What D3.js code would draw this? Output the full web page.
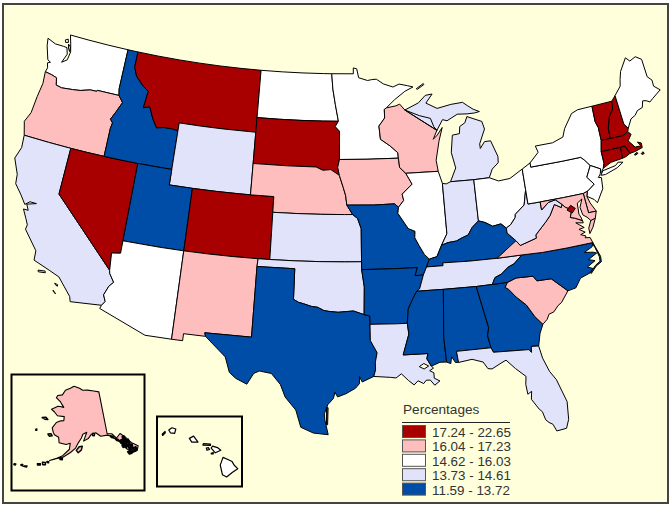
<!DOCTYPE html>
<html lang="en">
<head>
<meta charset="UTF-8">
<title>Percentages by state</title>
<style>
  html, body { margin: 0; padding: 0; background: #fff; }
  svg { display: block; }
  text { font-family: "Liberation Sans", Arial, sans-serif; fill: #333; }
</style>
</head>
<body>
<svg id="map" width="672" height="508"></svg>
<script src="https://d3js.org/d3.v7.min.js"></script>
<script>
// legend
const legendTitle = "Percentages";
const classLabels = ["17.24 - 22.65", "16.04 - 17.23", "14.62 - 16.03", "13.73 - 14.61", "11.59 - 13.72"];
const classColors = ["#a80000", "#ffbebe", "#ffffff", "#e1e3fb", "#004da8"];

// shared borders in lon/lat, each one drawn once so neighbours line up
const n49a = [[-122.76,49],[-121,49],[-119,49],[-117.03,49]];
const n49b = [[-117.03,49],[-116.05,49]];
const n49c = [[-116.05,49],[-114,49],[-112,49],[-110,49],[-108,49],[-106,49],[-104.05,49]];
const n49d = [[-104.05,49],[-102,49],[-100,49],[-98,49],[-97.23,49]];
const mnNorth = [[-97.23,49],[-95.15,49],[-95.15,49.38],[-94.82,49.32],[-94.64,48.74],[-93.8,48.55],[-93.4,48.6],[-92.95,48.62],[-92.3,48.3],[-91.4,48.07],[-90.8,48.24],[-90,48.1],[-89.5,48]];
const mnShore = [[-89.5,48],[-90.3,47.75],[-91.3,47.25],[-92.1,46.75]];
const waCoast = [[-122.76,49],[-122.5,48.45],[-122.3,47.95],[-122.4,47.4],[-122.85,47.15],[-122.55,47.75],[-122.75,48.15],[-123.1,48.17],[-123.9,48.17],[-124.73,48.38],[-124.6,47.9],[-124.15,47.05],[-123.85,46.95],[-124.1,46.85],[-123.95,46.55],[-124.05,46.27]];
const waOr = [[-124.05,46.27],[-123.4,46.2],[-122.9,46.1],[-122.75,45.65],[-122.2,45.57],[-121.2,45.65],[-120.5,45.72],[-119.6,45.92],[-119,45.93],[-118.98,46],[-116.92,46]];
const waId = [[-117.03,49],[-117.04,46.42],[-116.92,46]];
const orId = [[-116.92,46],[-116.46,45.6],[-116.85,44.95],[-117.2,44.4],[-116.95,44.2],[-117.03,43.83],[-117.03,42]];
const orCoast = [[-124.05,46.27],[-123.95,45.5],[-124.1,44.6],[-124.2,43.5],[-124.55,42.85],[-124.2,42]];
const s42a = [[-124.2,42],[-122,42],[-120,42]];
const s42b = [[-120,42],[-118.5,42],[-117.03,42]];
const s42c = [[-117.03,42],[-115.5,42],[-114.04,42]];
const s42d = [[-114.04,42],[-112.5,42],[-111.05,42]];
const caCoast = [[-124.2,42],[-124.1,41.2],[-124.4,40.44],[-123.8,39.5],[-123.7,38.9],[-123,38.3],[-122.5,37.8],[-122.15,38.05],[-121.6,38.05],[-122.35,37.85],[-122.1,37.5],[-122.5,37.5],[-122.1,36.96],[-121.85,36.6],[-121.9,36.3],[-120.65,35.15],[-120.6,34.55],[-119.2,34.15],[-118.4,33.9],[-117.25,32.85],[-117.12,32.53]];
const caNv = [[-120,42],[-120,39],[-114.63,35]];
const caAz = [[-114.63,35],[-114.57,34.8],[-114.14,34.3],[-114.45,34],[-114.72,33.4],[-114.5,33],[-114.72,32.72]];
const caMex = [[-117.12,32.53],[-114.72,32.72]];
const nvAz = [[-114.04,37],[-114.04,36.2],[-114.75,36.1],[-114.63,35]];
const nvUt = [[-114.04,42],[-114.04,37]];
const utAz = [[-114.04,37],[-111,37],[-109.05,37]];
const azNm = [[-109.05,37],[-109.05,31.33]];
const azMex = [[-114.72,32.72],[-114.81,32.5],[-111.07,31.33],[-109.05,31.33]];
const nmMex = [[-109.05,31.33],[-108.21,31.33],[-108.21,31.78],[-106.53,31.78]];
const nmTx = [[-103.04,36.5],[-103.06,32],[-106.62,32],[-106.53,31.78]];
const nmOk = [[-103,37],[-103.04,36.5]];
const okTx = [[-103.04,36.5],[-100,36.5],[-100,34.56],[-99.6,34.38],[-99.2,34.3],[-98.6,34.15],[-98.1,34.1],[-97.6,33.9],[-97.2,33.85],[-96.5,33.8],[-95.8,33.85],[-95.3,33.88],[-94.48,33.64]];
const txAr = [[-94.48,33.64],[-94.04,33.55],[-94.04,33.02]];
const txLa = [[-94.04,33.02],[-94.04,31.99],[-93.55,31.2],[-93.7,30.6],[-93.7,30.1],[-93.84,29.69]];
const txCoast = [[-93.84,29.69],[-94.7,29.35],[-94.9,29.7],[-94.9,29.25],[-95.2,28.95],[-95.9,28.6],[-96.5,28.4],[-96.7,28.7],[-96.8,28.3],[-97.2,27.9],[-97.45,27.3],[-97.4,26.9],[-97.15,25.96]];
const rioGrande = [[-97.15,25.96],[-98.2,26.05],[-99.1,26.4],[-99.5,27.5],[-100.3,28.3],[-100.7,29.1],[-101.4,29.77],[-102.3,29.88],[-102.7,29.7],[-103.15,28.98],[-104,29.3],[-104.5,29.65],[-104.9,30.6],[-106,31.4],[-106.53,31.78]];
const idMt = [[-116.05,49],[-116.05,48],[-115.7,47.45],[-114.9,46.9],[-114.35,46.65],[-114.5,45.55],[-113.95,45.7],[-113.45,44.95],[-113,44.45],[-112.3,44.55],[-111.5,44.55],[-111.05,44.48]];
const idWy = [[-111.05,44.48],[-111.05,42]];
const wyUt = [[-111.05,42],[-111.05,41],[-109.05,41]];
const utCo = [[-109.05,41],[-109.05,37]];
const s41b = [[-109.05,41],[-107,41],[-105,41],[-104.05,41]];
const mtWy = [[-111.05,44.48],[-111.05,45],[-109,45],[-107,45],[-104.05,45]];
const mtNd = [[-104.05,49],[-104.05,45.94]];
const mtSd = [[-104.05,45.94],[-104.05,45]];
const wySd = [[-104.05,45],[-104.05,43]];
const wyNe = [[-104.05,43],[-104.05,41]];
const ndSd = [[-104.05,45.94],[-102,45.94],[-100,45.94],[-98,45.94],[-96.56,45.94]];
const ndMn = [[-97.23,49],[-97.1,48],[-96.85,47],[-96.56,45.94]];
const sdMn = [[-96.56,45.94],[-96.85,45.6],[-96.45,45.3],[-96.45,43.5]];
const sdIa = [[-96.45,43.5],[-96.6,43],[-96.45,42.49]];
const sdNe = [[-104.05,43],[-101,43],[-98.5,43],[-97.9,42.8],[-97.2,42.85],[-96.45,42.49]];
const neIa = [[-96.45,42.49],[-96.1,41.7],[-95.9,41.2],[-95.8,40.6]];
const neMo = [[-95.8,40.6],[-95.31,40]];
const neKs = [[-102.05,40],[-100,40],[-98,40],[-96,40],[-95.31,40]];
const neCo = [[-104.05,41],[-102.05,41],[-102.05,40]];
const coKs = [[-102.05,40],[-102.05,37]];
const s37nm = [[-109.05,37],[-107,37],[-105,37],[-103,37]];
const s37ok = [[-103,37],[-102.05,37]];
const s37ks = [[-102.05,37],[-100,37],[-98,37],[-96,37],[-94.62,37]];
const ksMo = [[-95.31,40],[-94.9,39.75],[-94.61,39.1],[-94.62,37]];
const moOk = [[-94.62,37],[-94.62,36.5]];
const okAr = [[-94.62,36.5],[-94.43,35.4],[-94.48,33.64]];
const moAr = [[-94.62,36.5],[-92,36.5],[-90.15,36.5],[-90.37,36],[-89.7,36]];
const arLa = [[-94.04,33.02],[-92,33],[-91.17,33]];
const mnWi = [[-92.1,46.75],[-92.3,46.65],[-92.3,46.1],[-92.85,45.6],[-92.75,44.75],[-91.9,44.3],[-91.25,43.85],[-91.22,43.5]];
const mnIa = [[-96.45,43.5],[-94,43.5],[-91.22,43.5]];
const iaWi = [[-91.22,43.5],[-91.15,42.9],[-90.64,42.51]];
const iaIl = [[-90.64,42.51],[-90.15,41.8],[-91.05,41.2],[-90.95,40.8],[-91.42,40.38]];
const iaMo = [[-95.8,40.6],[-93.5,40.58],[-91.73,40.61],[-91.42,40.38]];
const moIl = [[-91.42,40.38],[-91.5,40],[-90.7,39],[-90.15,38.8],[-90.2,38.4],[-89.9,37.9],[-89.5,37.3],[-89.13,36.98]];
const moKy = [[-89.13,36.98],[-89.4,36.5]];
const moTn = [[-89.4,36.5],[-89.7,36]];
const arTn = [[-89.7,36],[-90.07,35.13],[-90.3,35]];
const arMs = [[-90.3,35],[-90.6,34.6],[-91.05,33.9],[-91.17,33]];
const laMs = [[-91.17,33],[-91.1,32.3],[-91.6,31],[-89.75,31],[-89.85,30.67],[-89.55,30.18]];
const laCoast = [[-93.84,29.69],[-92.6,29.6],[-92.2,29.55],[-91.8,29.8],[-91.3,29.35],[-90.9,29.05],[-90.6,29.3],[-90.2,29.1],[-90,29.3],[-89.7,29.3],[-89.4,28.95],[-89,29.2],[-89.4,29.4],[-89.4,29.75],[-89.7,29.9],[-89.4,30.05],[-89.55,30.18]];
const msCoast = [[-89.55,30.18],[-88.9,30.39],[-88.4,30.37]];
const alMs = [[-88.4,30.37],[-88.47,31.9],[-88.2,35]];
const alCoast = [[-88.4,30.37],[-88.1,30.25],[-88,30.68],[-87.75,30.3],[-87.52,30.28]];
const alFl = [[-87.52,30.28],[-87.6,31],[-85,31]];
const alGa = [[-85,31],[-85.15,31.8],[-85,32.3],[-85.6,34.98]];
const msTn = [[-90.3,35],[-88.2,35]];
const alTn = [[-88.2,35],[-85.6,34.98]];
const gaTn = [[-85.6,34.98],[-84.32,34.99]];
const gaNc = [[-84.32,34.99],[-83.11,35]];
const gaSc = [[-83.11,35],[-83.35,34.7],[-83.1,34.55],[-82.6,34],[-81.9,33.4],[-81.4,32.6],[-80.88,32.03]];
const gaCoast = [[-80.88,32.03],[-81.2,31.5],[-81.45,30.71]];
const flGa = [[-85,31],[-84.86,30.7],[-82.2,30.57],[-82.05,30.37],[-82,30.75],[-81.45,30.71]];
const flCoast = [[-81.45,30.71],[-81.3,29.9],[-80.95,29],[-80.55,28.4],[-80.05,26.9],[-80.15,25.75],[-80.4,25.2],[-81.1,25.13],[-81.3,25.6],[-81.55,25.75],[-81.75,25.95],[-81.9,26.5],[-82.1,26.7],[-82.55,27.4],[-82.45,27.9],[-82.75,27.75],[-82.8,28.4],[-82.7,28.9],[-83.4,29.5],[-84,30.1],[-84.4,29.95],[-85.1,29.65],[-85.4,29.7],[-85.7,30.15],[-86.5,30.4],[-87.52,30.28]];
const scNc = [[-83.11,35],[-82.4,35.2],[-81.05,35.15],[-80.8,34.82],[-79.67,34.8],[-78.55,33.86]];
const scCoast = [[-78.55,33.86],[-79.2,33.2],[-79.5,33.05],[-79.9,32.7],[-80.3,32.6],[-80.5,32.3],[-80.88,32.03]];
const tnNc = [[-81.68,36.59],[-82.4,36.1],[-82.9,35.95],[-83.5,35.57],[-84.05,35.4],[-84.32,34.99]];
const kyTn = [[-89.4,36.5],[-88.07,36.5],[-88.07,36.68],[-86,36.63],[-83.68,36.6]];
const tnVa = [[-83.68,36.6],[-81.68,36.59]];
const ncVa = [[-81.68,36.59],[-80,36.54],[-78,36.54],[-75.87,36.55]];
const ncCoast = [[-75.87,36.55],[-76,36.3],[-76.7,36.05],[-76,35.95],[-75.75,35.85],[-76.5,35.55],[-76,35.4],[-76.7,35.1],[-76.3,34.95],[-76.6,34.7],[-77.4,34.5],[-77.9,33.95],[-78.55,33.86]];
const kyIl = [[-88.05,37.8],[-88.5,37.1],[-89.13,36.98]];
const inKy = [[-84.82,39.1],[-85.4,38.73],[-85.8,38.28],[-86.3,38.15],[-86.8,37.98],[-87.5,37.93],[-88.05,37.8]];
const ohKy = [[-82.6,38.42],[-83,38.73],[-83.7,38.65],[-84.3,38.95],[-84.82,39.1]];
const ilWi = [[-90.64,42.51],[-87.8,42.49]];
const ilLake = [[-87.8,42.49],[-87.53,41.7]];
const ilIn = [[-87.53,41.7],[-87.53,38.5],[-88.05,37.8]];
const inLake = [[-87.53,41.7],[-87.2,41.65],[-86.82,41.76]];
const inMi = [[-86.82,41.76],[-84.8,41.73]];
const inOh = [[-84.8,41.73],[-84.82,39.1]];
const miOh = [[-84.8,41.73],[-83.45,41.73]];
const miLake = [[-86.82,41.76],[-86.25,42.6],[-86.5,43.6],[-86.25,44.7],[-85.6,44.75],[-85.5,45.2],[-85,45.4],[-84.75,45.78],[-83.45,45.35],[-83.3,44.85],[-83.9,43.95],[-83.9,43.65],[-83.45,44.05],[-82.9,44.05],[-82.45,43],[-82.5,42.6],[-83.1,42.25],[-83.45,41.73]];
const wiLake = [[-87.8,42.49],[-87.9,43.2],[-87.5,44.4],[-87.1,45.25],[-87.6,44.8],[-88,44.55],[-87.6,45.1]];
const wiMi = [[-87.6,45.1],[-87.85,45.35],[-88.1,45.9],[-89.1,46.13],[-90.4,46.55]];
const wiSup = [[-90.4,46.55],[-90.85,46.95],[-91.2,46.85],[-92.1,46.75]];
const miUpper = [[-90.4,46.55],[-89.1,46.95],[-88.4,47.4],[-87.75,47.45],[-88.4,46.9],[-87.4,46.5],[-86.1,46.67],[-85,46.72],[-84.6,46.48],[-84.1,46.2],[-83.55,46],[-84,45.95],[-84.7,45.95],[-85.6,46],[-86.6,45.65],[-87,45.75],[-87.6,45.1]];
const ohLake = [[-83.45,41.73],[-82.7,41.45],[-81.7,41.5],[-80.52,41.97]];
const ohPa = [[-80.52,41.97],[-80.52,40.64]];
const ohWv = [[-80.52,40.64],[-80.85,39.7],[-81.7,39.2],[-81.75,39],[-82.2,38.6],[-82.6,38.42]];
const kyWv = [[-82.6,38.42],[-82.6,38.1],[-81.97,37.54]];
const kyVa = [[-83.68,36.6],[-82.6,37.2],[-81.97,37.54]];
const wvVa = [[-81.97,37.54],[-81.68,37.2],[-80.3,37.5],[-80.3,37.7],[-79.3,38.42],[-78.87,38.76],[-78.35,39.4],[-77.83,39.13],[-77.72,39.32]];
const wvMd = [[-77.72,39.32],[-78.2,39.68],[-78.8,39.6],[-79.48,39.2],[-79.48,39.72]];
const wvPa = [[-79.48,39.72],[-80.52,39.72],[-80.52,40.64]];
const paMd = [[-79.48,39.72],[-77.5,39.72],[-75.79,39.72]];
const paDe = [[-75.79,39.72],[-75.41,39.8]];
const paNj = [[-75.41,39.8],[-75.1,39.95],[-74.72,40.15],[-75.2,40.68],[-74.7,41.36]];
const paLake = [[-80.52,41.97],[-79.76,42.27]];
const nyPa = [[-79.76,42.27],[-79.76,42],[-77,42],[-75.35,42],[-75.05,41.75],[-74.7,41.36]];
const nyLake = [[-79.76,42.27],[-78.9,42.85],[-79.05,43.27],[-77.5,43.27],[-76.5,43.5],[-76.2,44],[-75.3,44.85],[-74.7,45],[-73.35,45.01]];
const nyVt = [[-73.35,45.01],[-73.4,44],[-73.25,43.6],[-73.27,42.75]];
const nyMa = [[-73.27,42.75],[-73.5,42.05]];
const nyCt = [[-73.5,42.05],[-73.5,41.3],[-73.66,41]];
const nySound = [[-73.66,41],[-73.85,40.82],[-73.95,40.75],[-73.9,41]];
const nyNj = [[-74.7,41.36],[-73.9,41]];
const njCoast = [[-73.9,41],[-74.02,40.7],[-74.25,40.5],[-74,40.45],[-74.1,39.75],[-74.8,38.95],[-75,39.2],[-75.55,39.5],[-75.41,39.8]];
const deCoast = [[-75.41,39.8],[-75.55,39.5],[-75.4,39.05],[-75.05,38.45]];
const deMd = [[-75.79,39.72],[-75.7,38.46],[-75.05,38.45]];
const mdBay = [[-75.05,38.45],[-75.25,38.03],[-75.65,37.95],[-75.9,38.2],[-76.2,38.4],[-76.3,38.9],[-76,39.4],[-76.45,39.2],[-76.5,38.5],[-76.4,38.3],[-76.32,38.05]];
const potomac = [[-76.32,38.05],[-76.9,38.3],[-77.25,38.4],[-77.04,38.79],[-77.12,38.93],[-77.5,39.1],[-77.72,39.32]];
const vaCoast = [[-75.87,36.55],[-76,36.9],[-76.4,36.95],[-76.3,37.05],[-76.7,37.2],[-76.3,37.3],[-76.75,37.55],[-76.3,37.6],[-76.9,38],[-76.3,37.9],[-76.32,38.05]];
const vtNorth = [[-73.35,45.01],[-71.5,45.01]];
const vtNh = [[-71.5,45.01],[-71.6,44.5],[-72.05,44.1],[-72.4,43.4],[-72.46,42.73]];
const vtMa = [[-73.27,42.75],[-72.46,42.73]];
const nhCanada = [[-71.5,45.01],[-71.08,45.3]];
const nhMe = [[-71.08,45.3],[-70.98,43.4],[-70.7,43.07]];
const nhCoast = [[-70.7,43.07],[-70.82,42.87]];
const nhMa = [[-70.82,42.87],[-71.3,42.7],[-72.46,42.73]];
const meOuter = [[-71.08,45.3],[-70.4,45.8],[-70.25,46.2],[-70,46.7],[-69.22,47.46],[-68.9,47.18],[-68.3,47.35],[-67.8,47.07],[-67.78,45.9],[-67.45,45.6],[-67.47,45.2],[-67,44.85],[-67.9,44.45],[-68.2,44.3],[-68.5,44.45],[-68.8,44.5],[-69,44.1],[-69.5,44],[-69.8,43.75],[-70.25,43.6],[-70.7,43.07]];
const maCoast = [[-70.82,42.87],[-70.6,42.65],[-71,42.3],[-70.55,41.8],[-70.05,41.78],[-70.25,42.07],[-69.95,41.95],[-69.97,41.65],[-70.65,41.53],[-71.13,41.5]];
const maRi = [[-71.13,41.5],[-71.38,42.02],[-71.8,42.02]];
const maCt = [[-71.8,42.02],[-73.5,42.05]];
const riCoast = [[-71.13,41.5],[-71.5,41.37],[-71.86,41.32]];
const riCt = [[-71.86,41.32],[-71.8,42.02]];
const ctCoast = [[-71.86,41.32],[-72.9,41.25],[-73.66,41]];

// islands and odd pieces
const longIsland = [[-74,40.6],[-73.75,40.85],[-72.6,40.98],[-72.3,41.15],[-71.9,41.07],[-72.5,40.82],[-73.6,40.58]];
const marthasVineyard = [[-70.8,41.35],[-70.55,41.45],[-70.45,41.37],[-70.7,41.3]];
const nantucket = [[-70.2,41.3],[-70,41.38],[-69.95,41.25],[-70.15,41.23]];
const sanJuan = [[-123.1,48.6],[-122.85,48.7],[-122.75,48.5],[-123,48.45]];
const whidbey = [[-122.7,48.4],[-122.45,48.25],[-122.4,47.95],[-122.6,48.15]];
const santaCruz = [[-120.1,34],[-119.55,34.05],[-119.5,33.95],[-120.05,33.9]];
const catalina = [[-118.6,33.45],[-118.35,33.4],[-118.35,33.3],[-118.55,33.38]];
const sanClemente = [[-118.6,33],[-118.4,32.85],[-118.35,32.8],[-118.55,32.92]];
const virginiaShore = [[-75.65,37.95],[-75.25,38.03],[-75.6,37.5],[-75.95,37.15],[-75.95,37.5]];
const outerBanks = [[-75.87,36.55],[-75.5,35.6],[-75.53,35.25],[-76,35.05],[-76.5,34.65],[-76.55,34.7],[-76.05,35.1],[-75.62,35.3],[-75.6,35.6],[-75.78,36.2],[-75.95,36.55]];
const padre = [[-97.3,27.7],[-97.18,27.7],[-97.2,26.6],[-97.28,26.6]];
const isleRoyale = [[-89.2,47.87],[-88.5,48.17],[-88.45,48.1],[-89.1,47.83]];
const pontchartrain = [[-90.45,30.2],[-90.1,30.38],[-89.75,30.2],[-90.1,30.03]];
const dcDiamond = [[-77.4,38.9],[-77.03,39.15],[-76.7,38.9],[-77.03,38.65]];

// Alaska
const akMain = [[-141,69.65],[-144,70.05],[-148,70.4],[-151,70.45],[-153,70.9],[-156.6,71.35],[-159,70.85],[-162,70.3],[-163.5,69.2],[-166.2,68.88],[-166.8,68.35],[-164,67.6],[-163,67.1],[-161.8,66.5],[-163.8,66.6],[-165,66.55],[-168.1,65.65],[-166.3,65.2],[-164.5,64.5],[-161,64.5],[-161,63.6],[-162.5,63.5],[-164.5,63],[-166,61.7],[-165.2,60.8],[-164.5,60.3],[-162.5,59.9],[-162,58.7],[-159,58.5],[-157.3,58.8],[-157.5,57.5],[-160,56],[-163,55],[-164.8,54.6],[-162.5,55.2],[-160,55.6],[-157,56.8],[-155,57.8],[-153.8,59],[-152.5,60],[-151.8,60.8],[-150,61.2],[-151.6,59.3],[-149.5,59.8],[-148,60.7],[-146,60.9],[-144,60],[-141,60],[-139.5,59.6],[-137,58.3],[-135.6,57.3],[-134.5,56],[-133,55],[-131,55],[-130,55.9],[-132,57],[-134,58.8],[-135.5,59.7],[-137.5,58.9],[-139,60.1],[-141,60.3]];
const akIslands = [
  [[-154.7,57.3],[-153.5,58.1],[-152.2,58.2],[-152.6,57.4],[-153.9,56.8]],
  [[-171.8,63.4],[-170,63.7],[-168.8,63.3],[-170.3,63.2]],
  [[-167.4,60.2],[-166,60.4],[-165.4,60],[-166.6,59.8]],
  [[-173.1,60.6],[-172.7,60.7],[-172.6,60.4],[-173,60.35]],
  [[-173.3,52.2],[-172.4,52.35],[-172.5,52.05],[-173.5,52.05]],
  [[-177,51.95],[-176.4,52],[-176.5,51.75],[-177,51.75]],
  [[-174.6,52.3],[-174,52.4],[-174,52.05],[-174.6,52.1]],
  [[-169,53.4],[-167.9,53.55],[-167.8,53.25],[-168.8,53.1]],
  [[-167.3,53.95],[-166.2,54],[-166,53.5],[-167,53.4]],
  [[-165.7,54.3],[-165,54.3],[-165,54.05],[-165.6,54.05]],
  [[-161,55.4],[-160,55.4],[-160,55.1],[-160.9,55.1]],
  [[-147.3,60.9],[-146.5,60.7],[-146.8,60.3],[-147.6,60.4]]
];
// the panhandle islands run together into a dark clump in the original
const akPanhandle = [
  [[-139.8,59.7],[-138.8,59.5],[-138.6,59.1],[-139.6,59.4]],
  [[-138,58.8],[-137,58.6],[-136.7,58.2],[-137.6,58.4]],
  [[-136.5,58.2],[-135,58.4],[-134.9,57.9],[-136.2,57.6]],
  [[-136,57.6],[-135,57.7],[-134.7,57],[-135.6,57]],
  [[-134.7,57.8],[-133.9,57.7],[-134,56.9],[-134.7,56.3]],
  [[-136,57.1],[-135.2,57.2],[-135,56.6],[-135.8,56.6]],
  [[-133.9,56.8],[-132.8,56.9],[-132.9,56],[-133.7,56]],
  [[-133.7,55.9],[-132,55.9],[-131.6,55],[-133.2,55]],
  [[-132,55.8],[-131,55.9],[-130.9,55.2],[-131.7,55.2]],
  [[-132.8,56.8],[-132,56.7],[-132.2,56.1],[-132.8,56.1]],
  [[-135,58.9],[-134.1,58.9],[-133.9,58.1],[-134.7,58.1]],
  [[-133.6,58],[-132.9,58],[-132.7,57.2],[-133.4,57.2]],
  [[-134.6,55.4],[-133.4,55.4],[-133.2,54.8],[-134.2,54.8]]
];

// Hawaii
const hiIslands = [
  [[-155.85,20.27],[-155.5,20.12],[-155.2,19.98],[-155.05,19.73],[-154.8,19.5],[-155.2,19.25],[-155.6,18.95],[-155.9,19.1],[-156.05,19.75]],
  [[-156.7,20.9],[-156.6,21.03],[-156.25,20.93],[-156,20.75],[-156.4,20.58]],
  [[-157.3,21.1],[-157.25,21.2],[-156.75,21.17],[-156.75,21.08]],
  [[-157.05,20.9],[-156.9,20.93],[-156.82,20.8],[-157,20.75]],
  [[-156.7,20.55],[-156.55,20.6],[-156.55,20.5],[-156.68,20.5]],
  [[-158.28,21.55],[-157.97,21.7],[-157.65,21.3],[-158.1,21.3]],
  [[-159.78,22.1],[-159.55,22.25],[-159.27,22.17],[-159.35,21.87],[-159.65,21.9]],
  [[-160.25,21.8],[-160.05,22],[-160.03,21.9],[-160.22,21.72]]
];

const rev = a => a.slice().reverse();
const ring = (...parts) => parts.flat();

const stateNames = ["WA","OR","CA","NV","ID","MT","WY","UT","AZ","CO","NM","ND","SD","NE","KS","OK","TX","MN","IA","MO","AR","LA","WI","IL","MI","IN","OH","KY","TN","MS","AL","GA","FL","SC","NC","VA","WV","PA","NY","NJ","DE","MD","VT","NH","ME","MA","RI","CT"];
const stateClass = [2,1,3,0,4,0,3,4,2,0,1,2,0,1,3,3,4,2,1,4,4,3,1,2,3,3,2,4,3,4,4,4,3,1,4,1,3,2,2,2,1,1,0,0,2,0,0,0];
const stateRings = [
  [ring(n49a,waId,rev(waOr),rev(waCoast)),sanJuan,whidbey],
  [ring(orCoast,s42a,s42b,rev(orId),rev(waOr))],
  [ring(s42a,caNv,caAz,rev(caMex),rev(caCoast)),santaCruz,catalina,sanClemente],
  [ring(s42b,s42c,nvUt,nvAz,rev(caNv))],
  [ring(n49b,idMt,idWy,rev(s42d),rev(s42c),rev(orId),rev(waId))],
  [ring(n49c,mtNd,mtSd,rev(mtWy),rev(idMt))],
  [ring(mtWy,wySd,wyNe,rev(s41b),rev(wyUt),rev(idWy))],
  [ring(s42d,wyUt,utCo,rev(utAz),rev(nvUt))],
  [ring(utAz,azNm,rev(azMex),rev(caAz),rev(nvAz))],
  [ring(s41b,neCo,coKs,rev(s37ok),rev(s37nm),rev(utCo))],
  [ring(s37nm,nmOk,nmTx,rev(nmMex),rev(azNm))],
  [ring(n49d,ndMn,rev(ndSd),rev(mtNd))],
  [ring(ndSd,sdMn,sdIa,rev(sdNe),rev(wySd),rev(mtSd))],
  [ring(sdNe,neIa,neMo,rev(neKs),rev(neCo),rev(wyNe))],
  [ring(neKs,ksMo,rev(s37ks),rev(coKs))],
  [ring(s37ok,s37ks,moOk,okAr,rev(okTx),rev(nmOk))],
  [ring(okTx,txAr,txLa,txCoast,rioGrande,rev(nmTx)),padre],
  [ring(mnNorth,mnShore,mnWi,rev(mnIa),rev(sdMn),rev(ndMn))],
  [ring(mnIa,iaWi,iaIl,rev(iaMo),rev(neIa),rev(sdIa))],
  [ring(iaMo,moIl,moKy,moTn,rev(moAr),rev(moOk),rev(ksMo),rev(neMo))],
  [ring(moAr,arTn,arMs,rev(arLa),rev(txAr),rev(okAr))],
  [ring(arLa,laMs,rev(laCoast),rev(txLa))],
  [ring(mnWi,iaWi,ilWi,wiLake,wiMi,wiSup)],
  [ring(ilWi,ilLake,ilIn,kyIl,rev(moIl),rev(iaIl))],
  [ring(rev(inMi),miLake,rev(miOh)),miUpper.concat(rev(wiMi)),isleRoyale],
  [ring(rev(ilIn),inLake,inMi,inOh,inKy)],
  [ring(miOh,ohLake,ohPa,ohWv,ohKy,rev(inOh))],
  [ring(rev(kyIl),rev(inKy),rev(ohKy),kyWv,rev(kyVa),rev(kyTn),rev(moKy))],
  [ring(kyTn,tnVa,tnNc,rev(gaTn),rev(alTn),rev(msTn),rev(arTn),rev(moTn))],
  [ring(msTn,rev(alMs),rev(msCoast),rev(laMs),rev(arMs))],
  [ring(alMs,alTn,rev(alGa),rev(alFl),rev(alCoast))],
  [ring(alGa,gaTn,gaNc,gaSc,gaCoast,rev(flGa))],
  [ring(flGa,flCoast,alFl)],
  [ring(scNc,scCoast,rev(gaSc))],
  [ring(tnNc,gaNc,scNc,rev(ncCoast),rev(ncVa)),outerBanks],
  [ring(ncVa,vaCoast,potomac,rev(wvVa),rev(kyVa),tnVa),virginiaShore],
  [ring(wvVa,wvMd,wvPa,ohWv,kyWv)],
  [ring(paLake,nyPa,rev(paNj),rev(paDe),rev(paMd),wvPa,rev(ohPa))],
  [ring(nyLake,nyVt,nyMa,nyCt,nySound,rev(nyNj),rev(nyPa)),longIsland],
  [ring(nyNj,njCoast,paNj)],
  [ring(paDe,deCoast,rev(deMd))],
  [ring(paMd,deMd,mdBay,potomac,wvMd)],
  [ring(vtNorth,vtNh,rev(vtMa),rev(nyVt))],
  [ring(nhCanada,nhMe,nhCoast,nhMa,rev(vtNh))],
  [ring(meOuter,rev(nhMe))],
  [ring(vtMa,rev(nhMa),maCoast,maRi,maCt,rev(nyMa)),marthasVineyard,nantucket],
  [ring(rev(maRi),riCoast,riCt)],
  [ring(rev(maCt),rev(riCt),ctCoast,rev(nyCt))]
];

// d3-geo wants clockwise rings, mine go both ways
function toFeature(rings) {
  const polys = rings.map(r => {
    const closed = r.concat([r[0]]);
    const g = { type: "Polygon", coordinates: [closed] };
    if (d3.geoArea(g) > 2 * Math.PI) g.coordinates = [closed.slice().reverse()];
    return g.coordinates;
  });
  return { type: "MultiPolygon", coordinates: polys };
}

const svg = d3.select("#map");
const paper = "#ffffdc";

svg.append("rect").attr("x", 3).attr("y", 4).attr("width", 665).attr("height", 499)
  .attr("fill", paper).attr("stroke", "#444").attr("stroke-width", 2);

const lower48 = d3.geoAlbers().rotate([96, 0]).center([0, 37.5]).parallels([29.5, 45.5])
  .scale(895).translate([344.5, 254]);
const alaska = d3.geoConicEqualArea().rotate([154, 0]).center([0, 60]).parallels([55, 65])
  .scale(262).translate([78, 438]);
const hawaii = d3.geoAlbers().rotate([157, 0]).center([0, 20.5]).parallels([19, 22])
  .scale(850).translate([207, 454]);

const mainPath = d3.geoPath(lower48);

svg.append("g").selectAll("path").data(stateNames).join("path")
  .attr("d", (d, i) => mainPath(toFeature(stateRings[i])))
  .attr("fill", (d, i) => classColors[stateClass[i]])
  .attr("stroke", "#000").attr("stroke-width", 1).attr("stroke-linejoin", "round");

svg.append("path").attr("d", mainPath(toFeature([pontchartrain])))
  .attr("fill", paper).attr("stroke", "#000").attr("stroke-width", 1);
// DC is blown up in the original so that it can be seen
svg.append("path").attr("d", mainPath(toFeature([dcDiamond])))
  .attr("fill", classColors[0]).attr("stroke", "#000").attr("stroke-width", 1);

// insets
svg.append("rect").attr("x", 11.5).attr("y", 374.5).attr("width", 133).attr("height", 116)
  .attr("fill", paper).attr("stroke", "#000").attr("stroke-width", 2);
svg.append("rect").attr("x", 157).attr("y", 416.5).attr("width", 85).attr("height", 70)
  .attr("fill", paper).attr("stroke", "#000").attr("stroke-width", 2);

const akPath = d3.geoPath(alaska);
svg.append("path").attr("d", akPath(toFeature([akMain])))
  .attr("fill", classColors[1]).attr("stroke", "#000").attr("stroke-width", 1.1).attr("stroke-linejoin", "round");
svg.append("path").attr("d", akPath(toFeature(akIslands)))
  .attr("fill", classColors[1]).attr("stroke", "#000").attr("stroke-width", 1.4).attr("stroke-linejoin", "round");
svg.append("path").attr("d", akPath(toFeature(akPanhandle)))
  .attr("fill", "#111").attr("stroke", "#000").attr("stroke-width", 1.6).attr("stroke-linejoin", "round");
svg.append("path").attr("d", d3.geoPath(hawaii)(toFeature(hiIslands)))
  .attr("fill", classColors[2]).attr("stroke", "#000").attr("stroke-width", 1.2).attr("stroke-linejoin", "round");

// legend
const legend = svg.append("g").attr("transform", "translate(402,414)");
legend.append("text").attr("x", 1).attr("y", 0).attr("font-size", 13.6).text(legendTitle);
legend.append("line").attr("x1", 0).attr("x2", 108).attr("y1", 8.5).attr("y2", 8.5)
  .attr("stroke", "#222").attr("stroke-width", 1.2);

const row = d3.scaleBand().domain(classLabels).range([11, 83]);
const rows = legend.selectAll("g.row").data(classLabels).join("g").attr("class", "row")
  .attr("transform", d => `translate(0,${row(d)})`);
rows.append("rect").attr("x", 0.5).attr("y", 0.5).attr("width", 23).attr("height", 12)
  .attr("fill", (d, i) => classColors[i]).attr("stroke", "#555").attr("stroke-width", 1);
rows.append("text").attr("x", 30).attr("y", 12).attr("font-size", 13.4).text(d => d);
</script>
</body>
</html>
